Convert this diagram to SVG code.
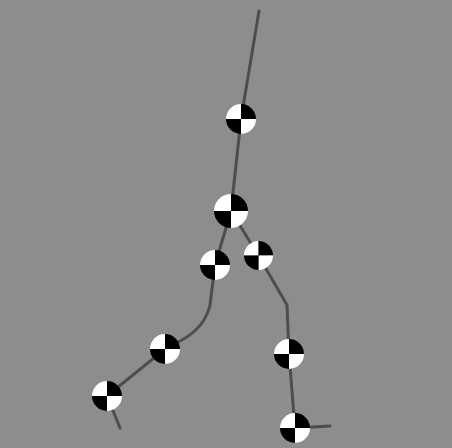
<svg xmlns="http://www.w3.org/2000/svg" width="452" height="448" viewBox="0 0 452 448">
  <defs>
    <filter id="soft" x="-20%" y="-20%" width="140%" height="140%">
      <feGaussianBlur stdDeviation="0.7"/>
    </filter>
    <symbol id="mk" viewBox="-1 -1 2 2" overflow="visible">
      <path d="M0 0 L-1 0 A1 1 0 0 1 0 -1 Z" fill="#ffffff"/>
      <path d="M0 0 L0 -1 A1 1 0 0 1 1 0 Z" fill="#000000"/>
      <path d="M0 0 L1 0 A1 1 0 0 1 0 1 Z" fill="#ffffff"/>
      <path d="M0 0 L0 1 A1 1 0 0 1 -1 0 Z" fill="#000000"/>
    </symbol>
  </defs>
  <style>
    .bone { fill: none; stroke: #4e4e4e; stroke-width: 3; stroke-linecap: round; stroke-linejoin: round; }
  </style>
  <rect width="452" height="448" fill="#8d8d8d"/>
  <g id="connectors" filter="url(#soft)">
    <path class="bone" d="M259 11 L241 119 L231 211"/>
    <path class="bone" d="M231 211 L215 265 L210 305 Q205 327 182 340 L165 349 L107 396 L120 428"/>
    <path class="bone" d="M231 211 L258 255 L287 305 L289 354 L295 428 L330 426"/>
  </g>
  <g filter="url(#soft)">
    <g id="m1"><use href="#mk" x="226" y="104" width="30" height="30"/></g>
    <g id="m2"><use href="#mk" x="214" y="194" width="34" height="34"/></g>
    <g id="m3"><use href="#mk" x="200" y="250" width="30" height="30"/></g>
    <g id="m4"><use href="#mk" x="244" y="241" width="29" height="29"/></g>
    <g id="m5"><use href="#mk" x="150" y="334" width="30" height="30"/></g>
    <g id="m6"><use href="#mk" x="92" y="381" width="30" height="30"/></g>
    <g id="m7"><use href="#mk" x="274" y="339" width="30" height="30"/></g>
    <g id="m8"><use href="#mk" x="280" y="413" width="30" height="30"/></g>
  </g>
</svg>
